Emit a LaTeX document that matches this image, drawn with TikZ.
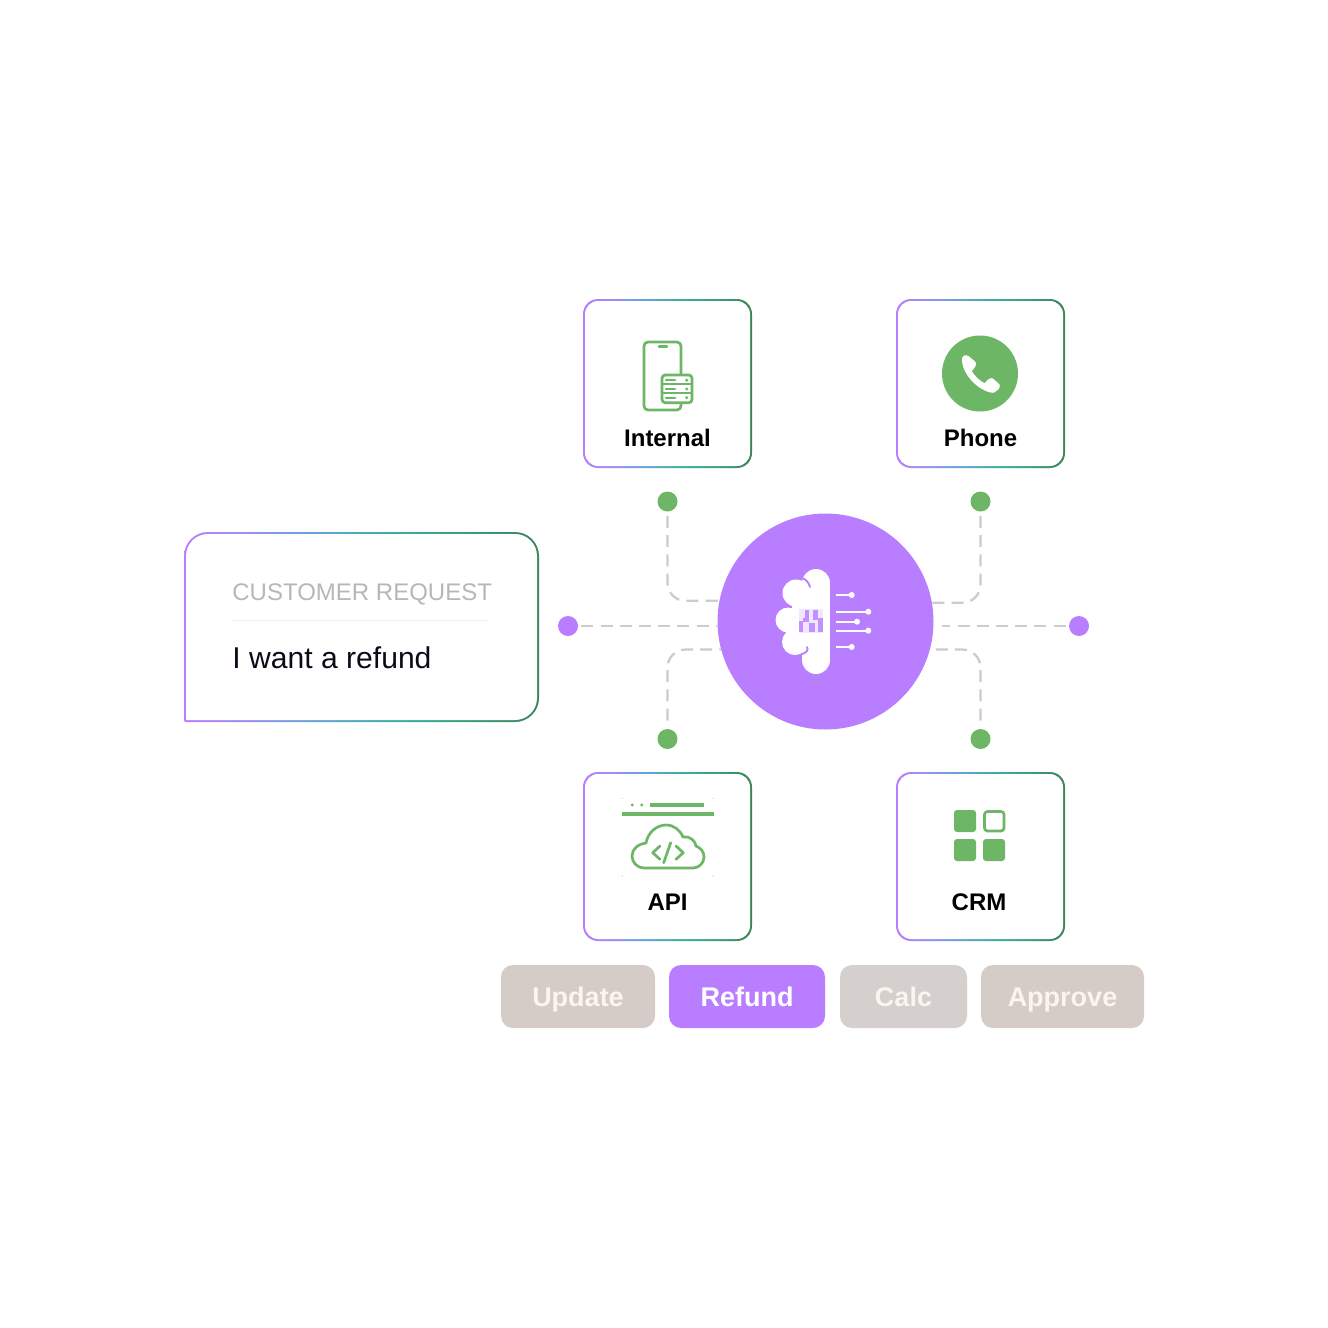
\documentclass[tikz,border=0pt]{standalone}
\usepackage{fontspec}
\setmainfont{Liberation Sans}
\definecolor{purp}{HTML}{B97EFF}
\definecolor{grn}{HTML}{6DB665}
\definecolor{dashgray}{HTML}{CDCBCC}
\definecolor{pill}{HTML}{D5CCC8}
\definecolor{pilltwo}{HTML}{D5CFCD}
\definecolor{pilltext}{HTML}{FBF4EF}
\definecolor{reqgray}{HTML}{B8B6B9}
\definecolor{ink}{HTML}{0B0B18}
\definecolor{rule}{HTML}{F1EFF1}
\definecolor{pixa}{HTML}{F1E6FF}
\definecolor{pixb}{HTML}{C391FF}
\pgfdeclarehorizontalshading{cardgrad}{100bp}{rgb(0bp)=(.73,.49,1); rgb(25bp)=(.73,.49,1); rgb(33bp)=(.62,.55,.96); rgb(42bp)=(.42,.63,.88); rgb(55bp)=(.22,.68,.63); rgb(65bp)=(.22,.62,.48); rgb(75bp)=(.24,.52,.34); rgb(100bp)=(.24,.52,.34)}
\tikzset{
  cardedge/.style={shading=cardgrad,rounded corners=7.5pt,minimum width=84.5pt,minimum height=84.5pt,inner sep=0pt},
  cardface/.style={fill=white,rounded corners=6.6pt,minimum width=82.5pt,minimum height=82.5pt,inner sep=0pt},
  cardlabel/.style={anchor=base,inner sep=0pt,font=\bfseries\fontsize{12}{14}\selectfont,text=black},
  greendot/.style={circle,fill=grn,minimum size=10pt,inner sep=0pt},
  purpdot/.style={circle,fill=purp,minimum size=10pt,inner sep=0pt},
  hubnode/.style={circle,fill=purp,minimum size=108pt,inner sep=0pt},
  dashline/.style={draw=dashgray,line width=1.15pt,dash pattern=on 6pt off 3.6pt,rounded corners=9pt},
  pillbox/.style={rounded corners=6pt,minimum height=31.5pt,inner sep=0pt,text height=10.5pt,text depth=.5pt,text=pilltext,font=\bfseries\fontsize{13.5}{15}\selectfont},
  icon/.style={draw=grn,line width=1.35pt,line join=round,line cap=round},
  brainline/.style={draw=white,line width=1pt},
}
\begin{document}
\begin{tikzpicture}[x=0.5pt,y=-0.5pt]
\useasboundingbox (0,0) rectangle (1328,1328);
% request card
\path[shading=cardgrad] (184,620) [rounded corners=12pt] -- (184,532) -- (539,532) -- (539,722) [rounded corners=1pt] -- (184,722) -- cycle;
\path[fill=white] (186,620) [rounded corners=11pt] -- (186,534) -- (537,534) -- (537,720) [rounded corners=.5pt] -- (186,720) -- cycle;
\node[anchor=base west,inner sep=0pt,text=reqgray,font=\fontsize{12}{15}\selectfont] (reqhead) at (232,600) {CUSTOMER REQUEST};
\path[draw=rule,line width=.5pt] (232,620.5) -- (489,620.5);
\node[anchor=base west,inner sep=0pt,text=ink,font=\fontsize{15.05}{18}\selectfont] (reqtext) at (232,668) {I want a refund};
% cards
\node[cardedge] (internalEdge) at (667.5,383.5) {};
\node[cardface] (internalFace) at (667.5,383.5) {};
\node[cardedge] (phoneEdge) at (980.5,383.5) {};
\node[cardface] (phoneFace) at (980.5,383.5) {};
\node[cardedge] (apiEdge) at (667.5,856.5) {};
\node[cardface] (apiFace) at (667.5,856.5) {};
\node[cardedge] (crmEdge) at (980.5,856.5) {};
\node[cardface] (crmFace) at (980.5,856.5) {};
\node[cardlabel] (internalLabel) at (667.5,446) {Internal};
\node[cardlabel] (phoneLabel) at (980.5,446) {Phone};
\node[cardlabel] (apiLabel) at (667.5,910.5) {API};
\node[cardlabel] (crmLabel) at (979,910.5) {CRM};
% hub and dots
\node[hubnode] (hub) at (825.5,621.5) {};
\node[greendot] (dotTL) at (667.5,501.5) {};
\node[greendot] (dotTR) at (980.5,501.5) {};
\node[greendot] (dotBL) at (667.5,739) {};
\node[greendot] (dotBR) at (980.5,739) {};
\node[purpdot] (dotL) at (568,626) {};
\node[purpdot] (dotR) at (1079,626) {};
% connectors
\draw[dashline,shorten <=2pt] (dotTL.south) |- (hub.169.6);
\draw[dashline,shorten <=2pt] (dotTR.south) |- (hub.10.4);
\draw[dashline,shorten <=4pt] (dotBL.north) |- (hub.195.3);
\draw[dashline,shorten <=4pt] (dotBR.north) |- (hub.-15.3);
\draw[dashline,shorten <=1.5pt] (dotL.east) -- (hub.west |- dotL.east);
\draw[dashline,shorten <=1.5pt,shorten >=4pt] (dotR.west) -- (hub.east |- dotR.west);
% brain
\fill[white] (816,583) circle[radius=14] (816,660) circle[radius=14]
  (796,593) circle[radius=13.5] (788,620) circle[radius=12.5] (795,642) circle[radius=13];
\fill[white] (802,583) rectangle (830,660);
\fill[white] (792,590) rectangle (804,650);
\draw[purp,line width=.9pt,line cap=round] (802,578) .. controls (806,579) and (809,583) .. (810,587);
\draw[purp,line width=.9pt,line cap=round] (802,654) .. controls (806,653) and (809,650) .. (807,647);
\fill[pixa] (799,609) rectangle (823,633);
\foreach \xa/\ya/\xb/\yb in {799/621/803/632,805/610/809/622,813/610/818/620,809/623/815/632,818/618/823/632,803/618/805/622}
  \fill[pixb] (\xa,\ya) rectangle (\xb,\yb);
\foreach \ya/\xb in {595/851.7,611.7/868.3,621.7/857,630.7/868.3,647/851.7}{
  \draw[brainline] (836,\ya) -- (\xb,\ya);
  \fill[white] (\xb,\ya) circle[radius=3];
}
% internal icon
\draw[icon,rounded corners=2pt] (644,342) rectangle (681,410);
\draw[icon] (659,346.7) -- (667,346.7);
\draw[icon,fill=white,rounded corners=1.6pt] (662,375) rectangle (692,402.7);
\draw[icon,line width=.9pt,line cap=butt] (662,384.3) -- (692,384.3) (662,393.3) -- (692,393.3);
\foreach \yy in {380.2,389,397.7}{
  \draw[icon,line width=1.1pt] (666,\yy) -- (675,\yy);
  \fill[grn] (686.7,\yy) circle[radius=1.7];
}
% phone icon
\fill[grn] (980,373.5) circle[radius=38];
\filldraw[white,line width=1.8pt,line join=round] (964,358) .. controls (965,357) and (966,356.5) .. (967.5,357.5) -- (974,363)
  .. controls (975,365) and (972,368) .. (969.5,371) .. controls (973,377) and (979,383) .. (985,385.5)
  .. controls (988,382) and (990,379.5) .. (992,380) -- (998,385.5) .. controls (998.5,387) and (996,390) .. (993,391)
  .. controls (980,390) and (962,372) .. (964,358) -- cycle;
% api icon
\fill[grn] (632.3,805) circle[radius=1.6] (641.7,805) circle[radius=1.6];
\draw[icon,line width=1.6pt,line cap=butt] (650,805) -- (704.3,805);
\draw[icon,line width=1.6pt,line cap=butt] (622,814) -- (714,814);
\foreach \sx/\sy in {622.3/798.3,713.3/798.3,622.3/875.7,713.3/875.7}
  \fill[grn!60] (\sx,\sy) circle[radius=.6];
\draw[icon] (644,868) .. controls (637,868) and (632,862) .. (632,856)
  .. controls (632,849) and (638,844) .. (646,843)
  .. controls (648,832) and (657,825) .. (666,825)
  .. controls (674,825) and (680,830) .. (683,837)
  .. controls (691,836) and (695,841) .. (696,846)
  .. controls (701,848) and (704,852) .. (704,857)
  .. controls (704,863) and (699,868) .. (693,868) -- cycle;
\draw[icon] (660,846) -- (652.7,852.7) -- (660,859.3);
\draw[icon] (670.7,842.7) -- (663.7,862.7);
\draw[icon] (676,846) -- (683.3,852.7) -- (676,859.3);
% crm icon
\fill[grn,rounded corners=1.5pt] (954,810) rectangle (976,832);
\draw[icon,rounded corners=1.5pt] (984.5,811.5) rectangle (1004,831);
\fill[grn,rounded corners=1.5pt] (954,839) rectangle (976,861);
\fill[grn,rounded corners=1.5pt] (983,839) rectangle (1005,861);
% pills
\node[pillbox,fill=pill,minimum width=77pt] (pillUpdate) at (578,996.5) {Update};
\node[pillbox,fill=purp,minimum width=78pt,text=white] (pillRefund) at (747,996.5) {Refund};
\node[pillbox,fill=pilltwo,minimum width=63.5pt] (pillCalc) at (903.5,996.5) {Calc};
\node[pillbox,fill=pill,minimum width=81.5pt] (pillApprove) at (1062.5,996.5) {Approve};
\end{tikzpicture}
\end{document}
